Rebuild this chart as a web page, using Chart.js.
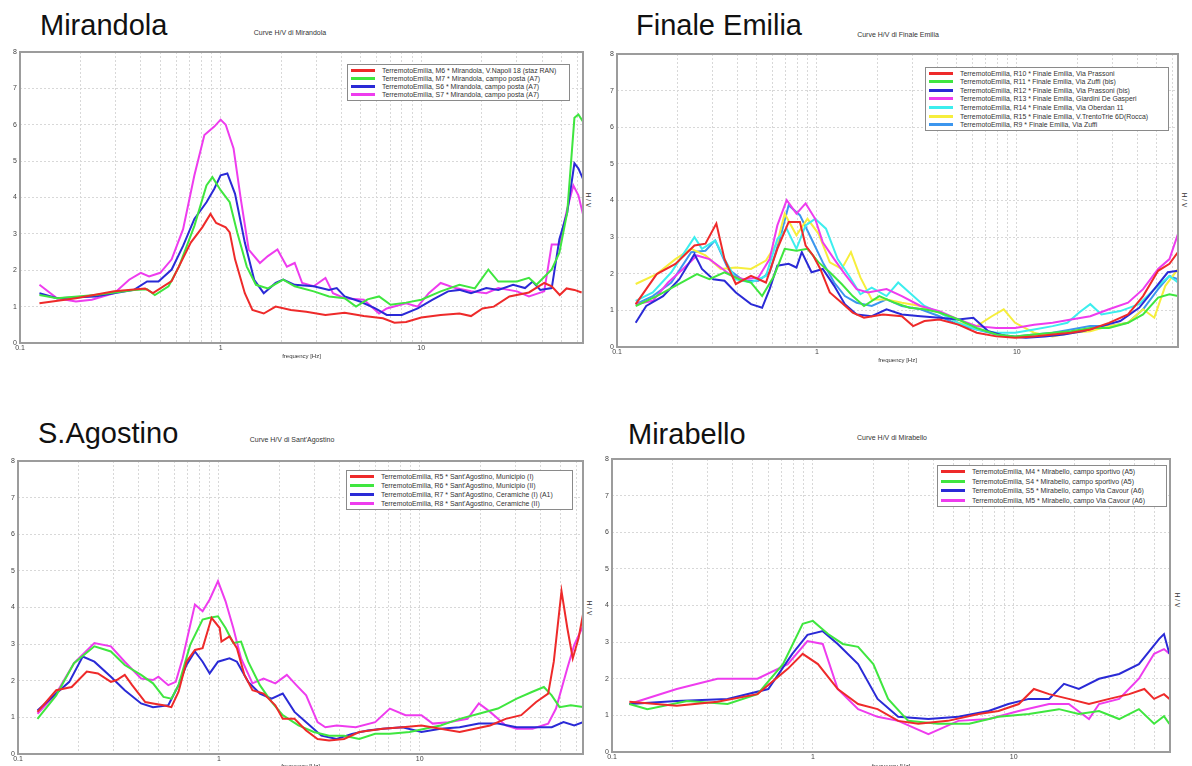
<!DOCTYPE html>
<html>
<head>
<meta charset="utf-8">
<script src="https://cdn.jsdelivr.net/npm/chart.js@4"></script>
<style>
  html, body { margin: 0; padding: 0; background: #fff; }
  body { width: 1192px; height: 766px; position: relative; overflow: hidden; font-family: "Liberation Sans", Arial, sans-serif; }
  canvas { position: absolute; }
  .big { position: absolute; font-size: 29px; line-height: 1; color: #111; white-space: nowrap; }
  .sub { position: absolute; font-size: 7px; color: #333; white-space: nowrap; transform: translateX(-50%); }
  .hv { position: absolute; font-size: 6.5px; color: #333; white-space: nowrap; transform: translate(-50%, -50%) rotate(90deg); }
  .legend { position: absolute; border: 1px solid #8a8a8a; background: #fff; box-sizing: border-box; padding: 1px 3px; font-size: 6.9px; color: #333; overflow: hidden; }
  .legend .row { display: flex; align-items: center; white-space: nowrap; }
  .legend .sw { width: 24px; height: 3px; margin-right: 7px; flex: none; }
</style>
</head>
<body>

<div class="big" style="left:40px;top:11px">Mirandola</div>
<div class="sub" style="left:290px;top:29px">Curve H/V di Mirandola</div>
<div class="hv" style="left:588px;top:200px">H / V</div>
<canvas id="c1" width="600" height="320" style="left:0;top:40px"></canvas>
<div class="legend" id="lg1" style="left:347px;top:64px;width:223px;height:37px"></div>

<div class="big" style="left:636px;top:11px">Finale Emilia</div>
<div class="sub" style="left:898px;top:31px">Curve H/V di Finale Emilia</div>
<div class="hv" style="left:1184px;top:200px">H / V</div>
<canvas id="c2" width="595" height="324" style="left:597px;top:40px"></canvas>
<div class="legend" id="lg2" style="left:925px;top:67px;width:244px;height:64px"></div>

<div class="big" style="left:38px;top:419px">S.Agostino</div>
<div class="sub" style="left:292px;top:436px">Curve H/V di Sant'Agostino</div>
<div class="hv" style="left:589px;top:608px">H / V</div>
<canvas id="c3" width="600" height="330" style="left:0;top:440px"></canvas>
<div class="legend" id="lg3" style="left:346px;top:470px;width:227px;height:40px"></div>

<div class="big" style="left:628px;top:420px">Mirabello</div>
<div class="sub" style="left:892px;top:434px">Curve H/V di Mirabello</div>
<div class="hv" style="left:1177px;top:600px">H / V</div>
<canvas id="c4" width="595" height="330" style="left:597px;top:440px"></canvas>
<div class="legend" id="lg4" style="left:937px;top:465px;width:230px;height:42px"></div>

<script>
// Mirandola
const mirM6F = [0.125,0.19,0.295,0.42,0.46,0.57,0.71,0.81,0.89,0.95,1.06,1.11,1.18,1.32,1.44,1.64,1.88,2.24,2.67,3.33,4.15,5.17,6.44,7.35,8.4,10,12.5,15.5,17.7,20.2,23,27.5,34.4,41,44.7,49,53,58,63];
const mirM6V = [1.09,1.23,1.42,1.5,1.37,1.7,2.76,3.18,3.55,3.3,3.18,3.04,2.3,1.37,0.91,0.81,1.0,0.91,0.86,0.77,0.83,0.74,0.68,0.56,0.58,0.7,0.77,0.81,0.74,0.95,1.0,1.28,1.39,1.65,1.56,1.32,1.5,1.46,1.39];
const mirM7F = [0.125,0.153,0.237,0.37,0.43,0.47,0.55,0.62,0.74,0.85,0.91,1.0,1.11,1.21,1.35,1.5,1.72,2.05,2.34,2.91,3.47,4.15,4.73,5.4,6.16,7.03,8.4,10,12.5,15.5,18.5,21.6,24.2,30,34.4,37.5,44.7,48.8,53.4,58,60.7,63.9];
const mirM7V = [1.32,1.23,1.32,1.46,1.48,1.32,1.56,2.1,3.22,4.33,4.56,4.2,3.87,3.04,2.1,1.6,1.5,1.74,1.56,1.42,1.28,1.23,1.0,1.2,1.28,1.05,1.11,1.19,1.42,1.6,1.5,2.02,1.69,1.69,1.79,1.6,2.02,2.48,3.59,6.19,6.28,6.09];
const mirS6F = [0.125,0.153,0.237,0.37,0.43,0.49,0.57,0.65,0.74,0.85,0.93,1.0,1.08,1.18,1.32,1.47,1.64,1.88,2.05,2.34,2.91,3.47,3.79,4.15,4.95,5.9,6.73,8.0,9.6,11.4,13.6,15.5,17.7,21.1,24.2,28.7,32.9,35.9,39.2,44.7,48.8,53.4,58,60.7,63.9];
const mirS6V = [1.37,1.23,1.28,1.46,1.69,1.69,2.02,2.67,3.41,3.87,4.24,4.61,4.66,4.1,2.76,1.74,1.37,1.65,1.74,1.6,1.56,1.46,1.51,1.28,1.14,0.95,0.77,0.77,0.95,1.19,1.42,1.46,1.37,1.51,1.46,1.6,1.51,1.69,1.46,1.51,2.85,3.59,4.94,4.8,4.52];
const mirS7F = [0.125,0.153,0.19,0.228,0.295,0.35,0.40,0.44,0.5,0.57,0.65,0.74,0.83,0.93,1.0,1.06,1.16,1.26,1.38,1.57,1.72,1.92,2.14,2.34,2.55,2.91,3.33,3.63,4.15,5.17,6.16,6.73,8.4,9.6,10.9,12.5,14.8,17.7,21.1,24.2,30,34.4,41,44.7,48.8,53.4,57.3,60.7,63.9];
const mirS7V = [1.6,1.23,1.14,1.19,1.37,1.74,1.93,1.83,1.93,2.3,3.13,4.61,5.72,5.95,6.14,6.0,5.35,3.96,2.57,2.2,2.39,2.57,2.1,2.2,1.65,1.56,1.79,1.37,1.23,1.19,0.81,0.95,1.09,1.0,1.37,1.65,1.51,1.42,1.37,1.51,1.42,1.28,1.42,2.71,2.71,3.69,4.33,4.06,3.55];

// Finale Emilia
const finR10F = [0.124,0.158,0.196,0.244,0.277,0.314,0.345,0.393,0.468,0.556,0.634,0.722,0.822,0.878,0.957,1.04,1.16,1.33,1.51,1.72,2.14,2.66,3.03,3.45,4.1,5.1,6.3,7.9,9.8,12.2,15.1,18.7,23.3,28.9,36,42.8,50.9,58,64];
const finR10V = [1.17,1.99,2.27,2.77,2.82,3.37,2.4,1.72,1.94,1.76,2.68,3.41,3.41,2.77,2.5,2.13,1.49,1.21,0.94,0.8,0.89,0.84,0.57,0.71,0.75,0.61,0.39,0.29,0.25,0.29,0.34,0.39,0.48,0.66,0.89,1.39,2.08,2.27,2.59];
const finR11F = [0.124,0.158,0.196,0.251,0.29,0.345,0.41,0.468,0.532,0.61,0.69,0.79,0.897,1.02,1.16,1.33,1.51,1.72,2.05,2.44,2.9,3.45,4.1,5.1,6.3,7.9,9.8,12.2,15.1,18.7,23.3,28.9,36,42.8,50.9,58,64];
const finR11V = [1.12,1.39,1.67,1.99,1.85,2.04,1.85,1.76,1.39,1.94,2.68,2.63,2.68,2.31,2.04,1.72,1.39,1.12,1.39,1.21,1.07,1.03,0.94,0.75,0.52,0.34,0.29,0.34,0.39,0.43,0.52,0.52,0.66,0.89,1.35,1.44,1.39];
const finR12F = [0.124,0.14,0.17,0.205,0.244,0.266,0.303,0.345,0.393,0.468,0.532,0.58,0.634,0.722,0.79,0.84,0.94,1.07,1.22,1.38,1.58,1.88,2.23,2.66,3.3,4.1,5.1,6.06,7.2,8.96,11.1,13.8,17.2,21.3,26.5,32.9,40.9,48.7,56.9,64];
const finR12V = [0.66,1.12,1.39,1.85,2.54,2.13,1.85,1.81,1.49,1.17,1.07,1.58,2.22,2.27,2.17,2.59,2.04,2.13,1.67,1.17,0.89,0.84,1.03,0.89,0.84,0.8,0.75,0.8,0.43,0.29,0.25,0.29,0.34,0.43,0.57,0.71,1.07,1.58,2.04,2.08];
const finR13F = [0.124,0.151,0.18,0.214,0.251,0.29,0.33,0.376,0.43,0.51,0.58,0.634,0.706,0.79,0.878,0.98,1.07,1.22,1.38,1.58,1.8,2.23,2.66,3.3,4.1,5.1,6.3,7.9,9.8,12.2,15.1,18.7,23.3,28.9,36,42.8,50.9,58,64];
const finR13V = [1.17,1.26,1.76,2.13,2.5,2.4,2.17,1.94,1.85,1.9,2.4,3.32,4.01,3.64,3.92,3.5,2.86,2.4,1.99,1.58,1.49,1.58,1.39,1.12,0.98,0.75,0.57,0.52,0.52,0.61,0.66,0.75,0.84,1.03,1.21,1.58,2.13,2.4,3.09];
const finR14F = [0.124,0.151,0.187,0.244,0.266,0.31,0.345,0.393,0.468,0.556,0.634,0.706,0.79,0.878,0.98,1.11,1.27,1.45,1.65,1.88,2.23,2.55,2.9,3.45,4.1,5.1,6.3,7.9,9.8,12.2,15.1,17.9,20.5,23.3,26.5,32.9,40.9,48.7,58,64];
const finR14V = [1.26,1.49,2.04,3.0,2.68,2.91,2.4,1.85,1.76,1.94,2.95,3.23,2.68,3.32,3.5,3.23,2.4,1.94,1.44,1.62,1.39,1.76,1.49,1.12,0.94,0.66,0.48,0.39,0.39,0.48,0.57,0.66,0.94,1.17,0.89,0.98,1.17,1.58,1.94,1.76];
const finR15F = [0.124,0.158,0.196,0.235,0.277,0.33,0.393,0.468,0.556,0.634,0.69,0.79,0.897,1.02,1.16,1.33,1.48,1.65,1.88,2.23,2.66,3.3,4.1,5.1,6.3,7.5,8.6,9.8,12.2,15.1,18.7,23.3,28.9,36,42.8,48.7,55.3,64];
const finR15V = [1.72,1.99,2.4,2.68,2.5,2.13,2.17,2.13,2.36,2.86,3.64,3.05,3.5,3.09,2.31,2.13,2.59,1.9,1.3,1.3,1.21,1.12,0.94,0.66,0.57,0.84,1.03,0.66,0.39,0.29,0.39,0.43,0.57,0.66,1.03,0.8,1.67,2.13];
const finR9F = [0.124,0.151,0.187,0.235,0.277,0.31,0.36,0.43,0.51,0.58,0.66,0.722,0.822,0.94,1.07,1.22,1.38,1.58,1.88,2.23,2.66,3.3,4.1,5.1,6.3,7.9,9.8,12.2,15.1,18.7,23.3,28.9,36,42.8,50.9,58,64];
const finR9V = [1.17,1.39,1.76,2.59,2.63,2.91,2.13,1.81,1.81,2.04,3.05,3.87,3.6,2.95,2.31,1.76,1.39,1.21,1.12,1.3,1.12,1.03,0.84,0.61,0.48,0.34,0.29,0.34,0.39,0.48,0.57,0.57,0.66,1.03,1.58,1.94,1.85];

// Sant'Agostino
const agoR5F = [0.125,0.155,0.185,0.22,0.25,0.29,0.31,0.34,0.37,0.43,0.47,0.53,0.58,0.63,0.69,0.76,0.83,0.92,1.01,1.03,1.13,1.23,1.34,1.47,1.67,1.91,2.08,2.38,2.72,3.1,3.54,4.2,5.0,6.55,8.2,10.2,12.7,15.8,18.8,22.4,26.8,32,38,43.6,46.5,50.8,54.3,57.8,61.8,65];
const agoR5V = [1.15,1.74,1.83,2.25,2.2,1.97,2.02,2.16,1.88,1.42,1.38,1.33,1.28,1.7,2.52,2.84,2.89,3.72,3.44,3.07,3.21,2.89,2.16,1.74,1.65,1.33,0.96,0.96,0.64,0.41,0.37,0.41,0.6,0.69,0.73,0.78,0.69,0.6,0.69,0.78,0.96,1.06,1.42,1.65,2.52,4.45,3.44,2.61,3.17,3.81];
const agoR6F = [0.125,0.155,0.19,0.24,0.29,0.34,0.41,0.47,0.53,0.58,0.63,0.72,0.83,0.9,0.99,1.08,1.18,1.29,1.4,1.6,1.83,2.08,2.49,2.97,3.54,4.2,5.0,6.0,7.1,8.9,10.6,12.7,15.8,19.7,24.5,30.4,36.4,41.5,45.4,49.7,56.5,65];
const agoR6V = [0.96,1.6,2.48,2.94,2.8,2.43,2.16,1.93,1.56,1.51,1.88,2.98,3.67,3.72,3.76,3.44,3.03,3.07,2.52,1.88,1.42,1.06,0.78,0.6,0.5,0.5,0.41,0.55,0.55,0.6,0.69,0.78,0.96,1.1,1.24,1.51,1.7,1.83,1.6,1.28,1.33,1.28];
const agoR7F = [0.125,0.155,0.18,0.21,0.24,0.29,0.34,0.41,0.47,0.56,0.63,0.69,0.76,0.83,0.9,0.99,1.13,1.23,1.4,1.6,1.83,2.08,2.38,2.72,3.24,3.86,4.6,5.5,6.55,8.2,10.2,12.7,15.8,19.7,24.5,30.4,38,45.4,52,58.8,65];
const agoR7V = [1.19,1.65,1.97,2.66,2.52,2.11,1.74,1.38,1.28,1.33,1.88,2.43,2.8,2.52,2.2,2.52,2.61,2.52,1.97,1.65,1.51,1.65,1.15,0.87,0.5,0.41,0.55,0.64,0.69,0.73,0.6,0.69,0.73,0.83,0.83,0.73,0.73,0.73,0.87,0.78,0.87];
const agoR8F = [0.125,0.155,0.19,0.24,0.29,0.34,0.41,0.47,0.5,0.56,0.61,0.66,0.76,0.83,0.9,0.99,1.08,1.18,1.29,1.47,1.67,1.91,2.18,2.43,2.72,3.1,3.39,3.86,4.8,6.0,7.1,8.5,10.2,11.6,13.9,17.3,19.7,22.4,26.8,30.4,36.4,43.6,47.7,54.3,58.8,65];
const agoR8V = [1.1,1.65,2.48,3.03,2.94,2.52,2.06,2.02,2.11,1.88,1.97,2.61,4.08,3.9,4.22,4.72,4.17,3.44,2.61,1.93,2.06,1.93,2.16,1.88,1.6,0.87,0.73,0.78,0.73,0.87,1.24,1.06,1.06,0.83,0.87,0.96,1.38,1.15,0.78,0.69,0.69,0.83,1.24,2.34,2.98,3.49];

// Mirabello
const mibM4F = [0.122,0.21,0.335,0.53,0.75,0.89,1.06,1.33,1.68,2.1,2.66,3.35,4.7,6.7,8.4,10.6,12.6,15,18.8,23.7,29.9,37.6,44.7,50,56,59.6];
const mibM4V = [1.37,1.26,1.37,1.58,2.27,2.68,2.4,1.72,1.31,1.17,0.85,0.77,0.85,1.04,1.12,1.31,1.72,1.58,1.45,1.31,1.45,1.58,1.72,1.45,1.58,1.45];
const mibS4F = [0.122,0.15,0.237,0.376,0.53,0.71,0.89,1.0,1.19,1.41,1.68,2.0,2.37,2.98,4.2,6.0,8.4,11.9,16.8,21.1,26.6,33.5,42,50,56,59.6];
const mibS4V = [1.31,1.17,1.39,1.31,1.58,2.4,3.5,3.58,3.22,2.95,2.87,2.4,1.45,0.85,0.77,0.77,0.96,1.04,1.17,1.04,1.12,0.9,1.17,0.77,0.98,0.77];
const mibS5F = [0.122,0.21,0.376,0.6,0.79,0.94,1.12,1.33,1.68,2.1,2.66,3.76,5.3,7.5,9.4,11.9,15,17.8,21.1,26.6,33.5,42,53,56,59.6];
const mibS5V = [1.31,1.39,1.45,1.72,2.68,3.2,3.3,2.95,2.4,1.45,0.96,0.9,0.96,1.12,1.31,1.45,1.45,1.86,1.72,2.0,2.13,2.4,3.09,3.22,2.68];
const mibM5F = [0.122,0.21,0.335,0.53,0.75,0.94,1.12,1.33,1.68,2.1,2.66,3.76,5.3,7.5,10.6,15,18.8,23.7,26.6,33.5,42,50,56,59.6];
const mibM5V = [1.31,1.72,2.0,2.0,2.4,3.03,2.95,1.72,1.17,0.96,0.85,0.49,0.85,0.9,1.12,1.31,1.31,0.9,1.31,1.45,2.0,2.68,2.81,2.68];

const yTicks = [0, 1, 2, 3, 4, 5, 6, 7, 8];

const RED = "#ee2a2a", GREEN = "#3fe63f", BLUE = "#2a2ad6", MAGENTA = "#ee3cee",
  CYAN = "#3ceeee", YELLOW = "#f6ee3c", SKY = "#3c96ee";

// helpers
function pts(f, v) {
  return f.map((x, i) => ({ x, y: v[i] }));
}

function series(label, color, f, v) {
  return {
    label,
    data: pts(f, v),
    borderColor: color,
    backgroundColor: color,
    borderWidth: 2,
    pointRadius: 0,
    tension: 0,
    fill: false,
  };
}

function logGrid(max) {
  const t = [];
  for (let e = -1; e <= 1; e++) {
    for (let k = 1; k <= 9; k++) {
      const v = +(k * Math.pow(10, e)).toPrecision(3);
      if (v <= max) t.push(v);
    }
  }
  return t;
}

// frame round plot area
const framePlugin = {
  id: "frame",
  afterDraw(chart) {
    const { ctx, chartArea: a } = chart;
    ctx.save();
    ctx.strokeStyle = "#9c9c9c";
    ctx.lineWidth = 2;
    ctx.strokeRect(a.left, a.top, a.right - a.left, a.bottom - a.top);
    ctx.restore();
  },
};

function makePanel(id, legendId, datasets, lay) {
  const grid = logGrid(lay.xmax);
  const chart = new Chart(document.getElementById(id), {
    type: "line",
    data: { datasets },
    options: {
      responsive: false,
      animation: false,
      devicePixelRatio: 1,
      layout: { padding: { left: lay.pl, right: lay.pr, top: lay.pt, bottom: 0 } },
      plugins: { legend: { display: false }, tooltip: { enabled: false } },
      scales: {
        x: {
          type: "logarithmic",
          min: 0.1,
          max: lay.xmax,
          afterBuildTicks: (axis) => {
            axis.ticks = grid.map((v) => ({ value: v }));
          },
          afterFit: (axis) => {
            axis.height = lay.xh;
          },
          ticks: {
            autoSkip: false,
            maxRotation: 0,
            padding: 1,
            color: "#444",
            font: { size: 7, family: "Liberation Sans" },
            callback: (value) => {
              const l = Math.log10(value);
              if (Math.abs(l - Math.round(l)) > 1e-6) return "";
              return String(+value.toPrecision(2));
            },
          },
          grid: { color: "#d8d8d8", lineWidth: 1, drawTicks: false },
          border: { display: false, dash: [2, 2] },
          title: {
            display: true,
            text: "frequency [Hz]",
            color: "#333",
            padding: 0,
            font: { size: 6, family: "Liberation Sans" },
          },
        },
        y: {
          min: 0,
          max: 8,
          afterBuildTicks: (axis) => {
            axis.ticks = yTicks.map((v) => ({ value: v }));
          },
          afterFit: (axis) => {
            axis.width = lay.yw;
          },
          ticks: {
            padding: 3,
            color: "#444",
            font: { size: 7, family: "Liberation Sans" },
          },
          grid: { color: "#d8d8d8", lineWidth: 1, drawTicks: false },
          border: { display: false, dash: [2, 2] },
        },
      },
    },
    plugins: [framePlugin],
  });

  // legend box in the plot, as in the original
  const box = document.getElementById(legendId);
  const rowH = (box.clientHeight - 2) / datasets.length;
  chart.data.datasets.forEach((d) => {
    const row = document.createElement("div");
    row.className = "row";
    row.style.height = rowH + "px";
    row.innerHTML = `<span class="sw" style="background:${d.borderColor}"></span><span>${d.label}</span>`;
    box.appendChild(row);
  });
  return chart;
}

makePanel("c1", "lg1", [
  series("TerremotoEmilia, M6 * Mirandola, V.Napoli 18 (staz RAN)", RED, mirM6F, mirM6V),
  series("TerremotoEmilia, M7 * Mirandola, campo posta (A7)", GREEN, mirM7F, mirM7V),
  series("TerremotoEmilia, S6 * Mirandola, campo posta (A7)", BLUE, mirS6F, mirS6V),
  series("TerremotoEmilia, S7 * Mirandola, campo posta (A7)", MAGENTA, mirS7F, mirS7V),
], { pl: 4, yw: 16, pr: 17, pt: 12, xh: 17, xmax: 64 });

makePanel("c2", "lg2", [
  series("TerremotoEmilia, R10 * Finale Emilia, Via Prassoni", RED, finR10F, finR10V),
  series("TerremotoEmilia, R11 * Finale Emilia, Via Zuffi (bis)", GREEN, finR11F, finR11V),
  series("TerremotoEmilia, R12 * Finale Emilia, Via Prassoni (bis)", BLUE, finR12F, finR12V),
  series("TerremotoEmilia, R13 * Finale Emilia, Giardini De Gasperi", MAGENTA, finR13F, finR13V),
  series("TerremotoEmilia, R14 * Finale Emilia, Via Oberdan 11", CYAN, finR14F, finR14V),
  series("TerremotoEmilia, R15 * Finale Emilia, V.TrentoTrie 6D(Rocca)", YELLOW, finR15F, finR15V),
  series("TerremotoEmilia, R9 * Finale Emilia, Via Zuffi", SKY, finR9F, finR9V),
], { pl: 4, yw: 16, pr: 14, pt: 14, xh: 17, xmax: 64 });

makePanel("c3", "lg3", [
  series("TerremotoEmilia, R5 * Sant'Agostino, Municipio (I)", RED, agoR5F, agoR5V),
  series("TerremotoEmilia, R6 * Sant'Agostino, Municipio (II)", GREEN, agoR6F, agoR6V),
  series("TerremotoEmilia, R7 * Sant'Agostino, Ceramiche (I) (A1)", BLUE, agoR7F, agoR7V),
  series("TerremotoEmilia, R8 * Sant'Agostino, Ceramiche (II)", MAGENTA, agoR8F, agoR8V),
], { pl: 2, yw: 16, pr: 17, pt: 21, xh: 16, xmax: 65 });

makePanel("c4", "lg4", [
  series("TerremotoEmilia, M4 * Mirabello, campo sportivo (A5)", RED, mibM4F, mibM4V),
  series("TerremotoEmilia, S4 * Mirabello, campo sportivo (A5)", GREEN, mibS4F, mibS4V),
  series("TerremotoEmilia, S5 * Mirabello, campo Via Cavour (A6)", BLUE, mibS5F, mibS5V),
  series("TerremotoEmilia, M5 * Mirabello, campo Via Cavour (A6)", MAGENTA, mibM5F, mibM5V),
], { pl: 0, yw: 15, pr: 22, pt: 19, xh: 18, xmax: 60 });
</script>
</body>
</html>
